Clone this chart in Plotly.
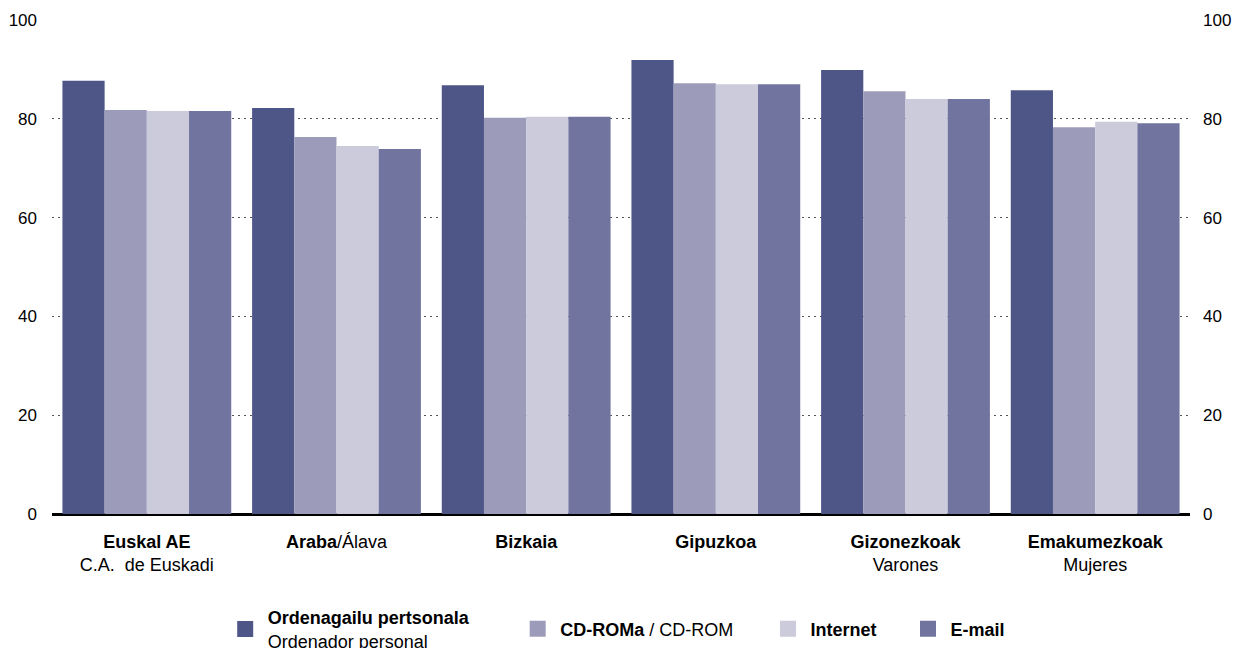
# Ordenagailu, CD-ROM, Internet eta E-mail erabilera (%)
import plotly.graph_objects as go

categories = ['<b>Euskal AE</b><br>C.A.  de Euskadi', '<b>Araba</b>/Álava', '<b>Bizkaia</b>',
              '<b>Gipuzkoa</b>', '<b>Gizonezkoak</b><br>Varones', '<b>Emakumezkoak</b><br>Mujeres']
ordenagailu = [87.7, 82.2, 86.8, 91.9, 89.9, 85.8]
cdrom = [81.8, 76.3, 80.2, 87.2, 85.6, 78.3]
internet = [81.6, 74.5, 80.4, 87.0, 84.0, 79.4]
email = [81.6, 73.9, 80.4, 87.0, 84.0, 79.1]

series = [
    ('<b>Ordenagailu pertsonala</b><br>Ordenador personal', ordenagailu, '#4e5688'),
    ('<b>CD-ROMa</b> / CD-ROM', cdrom, '#9c9cba'),
    ('<b>Internet</b>', internet, '#cbcbdb'),
    ('<b>E-mail</b>', email, '#7274a0'),
]
legend_x = [0.150, 0.407, 0.627, 0.750]
legend_ids = ['legend', 'legend2', 'legend3', 'legend4']

fig = go.Figure()
for (name, vals, col), lg in zip(series, legend_ids):
    fig.add_trace(go.Bar(x=categories, y=vals, name=name, marker_color=col,
                         marker_line_width=0, showlegend=False))
    # legend proxy with a bigger square, one legend per entry so spacing can be set
    fig.add_trace(go.Scatter(x=[None], y=[None], mode='markers', name=name, legend=lg,
                             marker=dict(symbol='square', size=16, color=col)))

# invisible trace so the right axis gets drawn
fig.add_trace(go.Scatter(x=categories, y=[None] * 6, yaxis='y2', showlegend=False,
                         hoverinfo='skip'))

tick_font = dict(family='Liberation Sans, Arial, sans-serif', size=17, color='#000')
text_font = dict(family='Liberation Sans, Arial, sans-serif', size=18, color='#000')

legends = {}
for lg, lx in zip(legend_ids, legend_x):
    legends[lg] = dict(orientation='h', x=lx, y=-0.233, xanchor='left', yanchor='middle',
                       font=text_font, bgcolor='rgba(0,0,0,0)', valign='middle',
                       itemwidth=35)

# page body has an 8px margin, so the figure is a bit smaller than the window
fig.update_layout(
    width=1235, height=640,
    margin=dict(l=44, r=53, t=12, b=134, autoexpand=False),
    plot_bgcolor='white', paper_bgcolor='white',
    font=text_font,
    barmode='group', bargap=0.11, bargroupgap=0,
    xaxis=dict(showgrid=False, tickfont=text_font, ticks='', ticklabelstandoff=15,
               showline=False, automargin=False),
    yaxis=dict(range=[0, 100], dtick=20, showgrid=True, gridcolor='#555',
               griddash='2px,4px', gridwidth=1.3, zeroline=True, zerolinecolor='#000',
               zerolinewidth=2.5, tickfont=tick_font, ticklabelstandoff=14,
               automargin=False),
    yaxis2=dict(range=[0, 100], dtick=20, overlaying='y', side='right',
                showgrid=False, zeroline=False, tickfont=tick_font,
                ticklabelstandoff=12, automargin=False),
    **legends,
)

fig.write_html('out.html')
